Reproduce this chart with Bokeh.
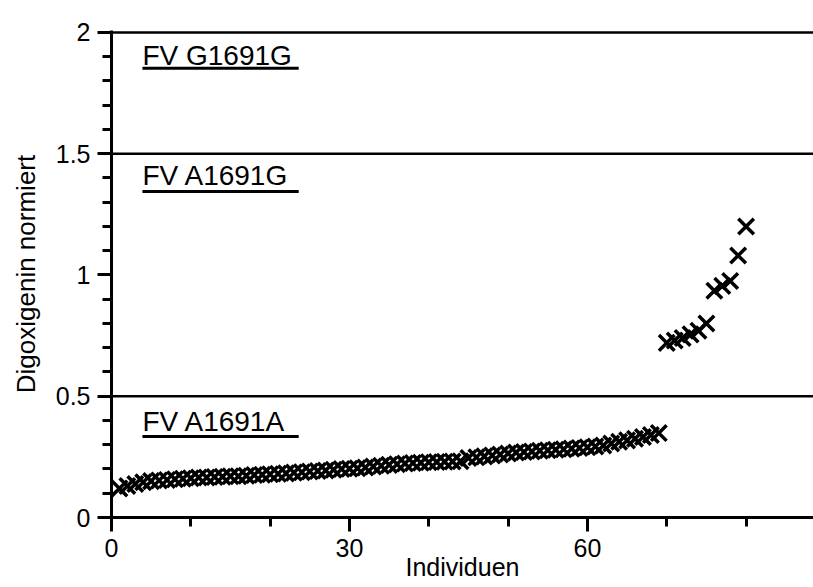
from bokeh.plotting import figure
from bokeh.models import Span, Label, FixedTicker, CustomJSTickFormatter, Range1d
from bokeh.embed import file_html
from bokeh.resources import INLINE

# ---- data ----
individuen = list(range(1, 81))
digoxigenin = [
    0.120, 0.130, 0.138, 0.145, 0.150, 0.153, 0.155, 0.158, 0.160, 0.162,
    0.165, 0.165, 0.167, 0.168, 0.170, 0.170, 0.172, 0.175, 0.176, 0.178,
    0.180, 0.182, 0.185, 0.187, 0.190, 0.192, 0.194, 0.197, 0.200, 0.201,
    0.203, 0.206, 0.210, 0.213, 0.217, 0.220, 0.223, 0.225, 0.226, 0.228,
    0.229, 0.230, 0.231, 0.232, 0.245, 0.248, 0.252, 0.256, 0.260, 0.264,
    0.268, 0.270, 0.272, 0.275, 0.277, 0.279, 0.281, 0.284, 0.287, 0.290,
    0.293, 0.297, 0.305, 0.312, 0.318, 0.325, 0.332, 0.340, 0.348,
    0.720, 0.730, 0.740, 0.755, 0.770, 0.800, 0.935, 0.955, 0.975, 1.080,
    1.200,
]
thresholds = [0.5, 1.5, 2.0]
genotype_labels = ["FV G1691G", "FV A1691G", "FV A1691A"]
x_major_ticks = [0, 30, 60]
x_minor_ticks = [0, 10, 20, 30, 40, 50, 60, 70, 80]
y_major_ticks = [0, 0.5, 1, 1.5, 2]
y_minor_ticks = [0.1, 0.2, 0.3, 0.4, 0.6, 0.7, 0.8, 0.9,
                 1.1, 1.2, 1.3, 1.4, 1.6, 1.7, 1.8, 1.9]
x_title = "Individuen"
y_title = "Digoxigenin normiert"

FONT = "Liberation Sans"

p = figure(width=813, height=587,
           x_range=Range1d(0, 88.5), y_range=Range1d(0, 2.008),
           output_backend="svg", toolbar_location=None,
           min_border_left=111, min_border_right=0,
           min_border_top=30, min_border_bottom=70)
p.outline_line_color = None
p.xgrid.visible = False
p.ygrid.visible = False
p.background_fill_color = "white"
p.border_fill_color = "white"

p.xaxis.ticker = FixedTicker(ticks=x_major_ticks, minor_ticks=x_minor_ticks)
p.yaxis.ticker = FixedTicker(ticks=y_major_ticks, minor_ticks=y_minor_ticks)
p.xaxis.formatter = CustomJSTickFormatter(code="return String(tick);")
p.yaxis.formatter = CustomJSTickFormatter(code="return String(tick);")

for ax in (p.xaxis[0], p.yaxis[0]):
    ax.axis_line_width = 3
    ax.axis_line_color = "black"
    ax.major_tick_line_width = 3
    ax.minor_tick_line_width = 3
    ax.major_tick_line_color = "black"
    ax.minor_tick_line_color = "black"
    ax.major_tick_in = 0
    ax.minor_tick_in = 0
    ax.major_tick_out = 14
    ax.minor_tick_out = 9
    ax.major_label_text_font = FONT
    ax.major_label_text_font_size = "25px"
    ax.major_label_text_color = "black"
    ax.major_label_standoff = 7
    ax.axis_label_text_font = FONT
    ax.axis_label_text_font_style = "normal"
    ax.axis_label_text_color = "black"

p.yaxis.axis_label = y_title
p.yaxis.axis_label_text_font_size = "26px"
p.yaxis.axis_label_standoff = 12

p.xaxis.axis_label = x_title
p.xaxis.axis_label_text_font_size = "25px"
p.xaxis.axis_label_standoff = -7

for t in thresholds:
    p.add_layout(Span(location=t, dimension="width", line_color="black",
                      line_width=2.5))

# genotype labels with underlines
label_x = 3.9
label_top = [1.969, 1.476, 0.458]   # y of the text's top edge
ul_y = [1.852, 1.344, 0.334]        # y of the underline
ul_end = 23.6
for txt, ty, uy in zip(genotype_labels, label_top, ul_y):
    p.add_layout(Label(x=label_x, y=ty, text=txt, text_font=FONT,
                       text_font_size="28px", text_baseline="top",
                       text_color="black"))
    p.segment(x0=[label_x], y0=[uy], x1=[ul_end], y1=[uy],
              line_color="black", line_width=3)

p.scatter(individuen, digoxigenin, marker="x", size=22,
          line_color="black", line_width=3.5)

open("out.html", "w").write(file_html(p, INLINE))
